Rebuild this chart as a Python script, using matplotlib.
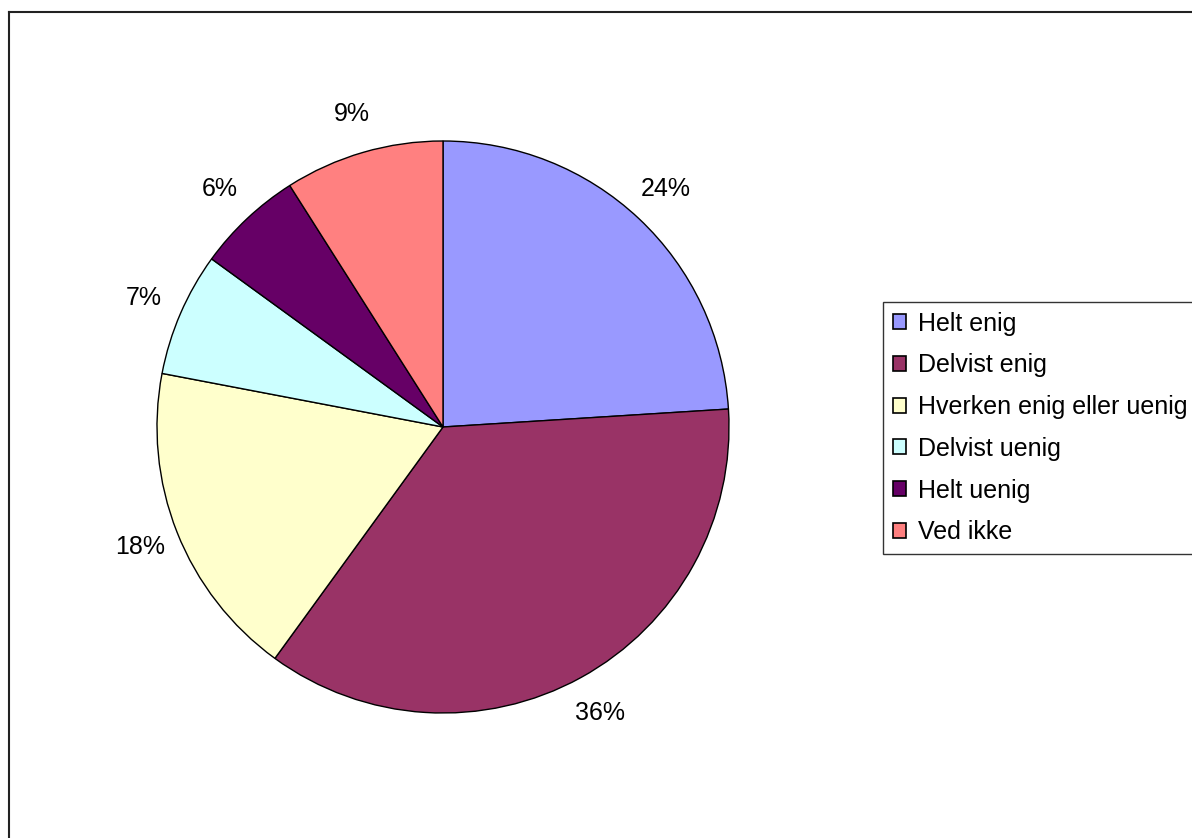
import matplotlib
matplotlib.use('Agg')
import matplotlib.pyplot as plt
from matplotlib.lines import Line2D

# Survey answers (share of respondents, %)
categories = ['Helt enig', 'Delvist enig', 'Hverken enig eller uenig',
              'Delvist uenig', 'Helt uenig', 'Ved ikke']
values = [24, 36, 18, 7, 6, 9]
colors = ['#9999FF', '#993366', '#FFFFCC', '#CCFFFF', '#660066', '#FF8080']

plt.rcParams['font.family'] = ['Liberation Sans', 'DejaVu Sans']
FS = 18

W, H = 1192, 838
fig = plt.figure(figsize=(W / 100, H / 100), dpi=100)
fig.patch.set_facecolor('white')

# pie centre (443, 427) px, radius 286 px
cx, cy, r = 443, 427, 286
ax = fig.add_axes([(cx - r) / W, (H - cy - r) / H, 2 * r / W, 2 * r / H])
wedges, _, autotexts = ax.pie(
    values, colors=colors, startangle=90, counterclock=False,
    autopct='%1.0f%%', pctdistance=1.14,
    wedgeprops=dict(edgecolor='black', linewidth=1.0),
    textprops=dict(fontsize=FS, color='black'))
ax.set_xlim(-1, 1)
ax.set_ylim(-1, 1)
ax.set_aspect('equal')
ax.axis('off')

# outer chart frame (cut off at right and bottom)
fig.add_artist(Line2D([8.5 / W, 8.5 / W], [0, (H - 12) / H], color='#222222', lw=1.5))
fig.add_artist(Line2D([8.5 / W, 1], [(H - 12) / H, (H - 12) / H], color='#222222', lw=1.5))

leg = fig.legend(wedges, categories, loc='upper left',
                 bbox_to_anchor=(883 / W, (H - 302) / H),
                 fontsize=FS, frameon=True, fancybox=False,
                 edgecolor='black', handlelength=0.55, handleheight=0.55,
                 handletextpad=0.45, labelspacing=0.71, borderpad=0.38,
                 borderaxespad=0)
leg.get_frame().set_linewidth(1.0)
for h in leg.legend_handles:
    h.set_edgecolor('black')
    h.set_linewidth(1.2)

fig.savefig('out.png', dpi=100)
